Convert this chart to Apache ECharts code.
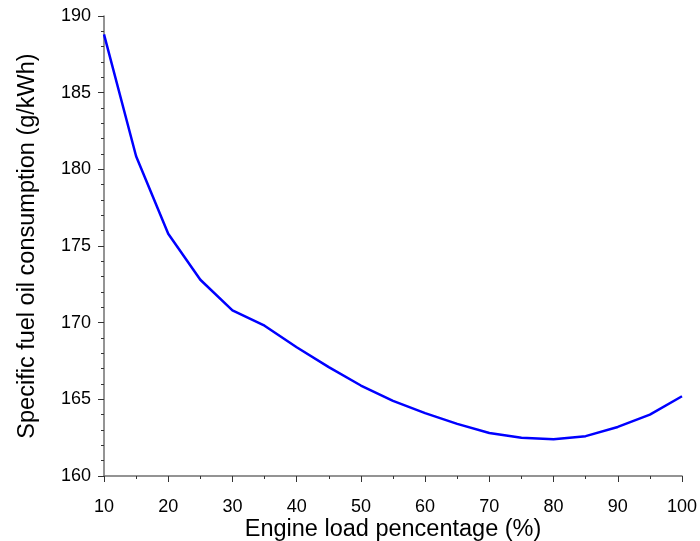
<!DOCTYPE html>
<html>
<head>
<meta charset="utf-8">
<script src="https://cdn.jsdelivr.net/npm/echarts@6/dist/echarts.min.js"></script>
<style>html,body{margin:0;padding:0;background:#fff;}#c{width:700px;height:541px;}</style>
</head>
<body>
<div id="c"></div>
<script>
const loadPct = [10, 15, 20, 25, 30, 35, 40, 45, 50, 55, 60, 65, 70, 75, 80, 85, 90, 95, 100];
const sfoc = [188.8, 180.85, 175.8, 172.8, 170.8, 169.8, 168.4, 167.1, 165.9, 164.9, 164.1, 163.4, 162.8, 162.5, 162.4, 162.6, 163.2, 164.0, 165.2];
const xTicks = [10, 20, 30, 40, 50, 60, 70, 80, 90, 100];
const yTicks = [160, 165, 170, 175, 180, 185, 190];

const font = '"Liberation Sans", Arial, sans-serif';
const axisGrey = '#707070';
const chart = echarts.init(document.getElementById('c'), null, {renderer: 'canvas'});
chart.setOption({
  animation: false,
  backgroundColor: '#ffffff',
  grid: {left: 104, right: 18, top: 16, bottom: 65, containLabel: false, outerBoundsMode: 'none'},
  xAxis: {
    type: 'value',
    min: xTicks[0], max: xTicks[xTicks.length - 1], interval: 10,
    name: 'Engine load pencentage (%)',
    nameLocation: 'middle', nameGap: 42, nameMoveOverlap: false,
    nameTextStyle: {fontFamily: font, fontSize: 23.5, color: '#000'},
    axisLine: {show: true, lineStyle: {color: axisGrey, width: 1.5}},
    axisTick: {show: true, inside: false, length: 6, lineStyle: {color: '#333', width: 1}},
    minorTick: {show: true, splitNumber: 2, length: 3, lineStyle: {color: '#333', width: 1}},
    axisLabel: {fontFamily: font, fontSize: 18, color: '#000', margin: 22},
    splitLine: {show: false}
  },
  yAxis: {
    type: 'value',
    min: yTicks[0], max: yTicks[yTicks.length - 1], interval: 5,
    name: 'Specific fuel oil consumption (g/kWh)',
    nameLocation: 'middle', nameGap: 64, nameMoveOverlap: false,
    nameTextStyle: {fontFamily: font, fontSize: 23.5, color: '#000'},
    axisLine: {show: true, lineStyle: {color: axisGrey, width: 1.5}},
    axisTick: {show: true, inside: false, length: 6, lineStyle: {color: '#333', width: 1}},
    minorTick: {show: true, splitNumber: 5, length: 3, lineStyle: {color: '#333', width: 1}},
    axisLabel: {fontFamily: font, fontSize: 18, color: '#000', margin: 13},
    splitLine: {show: false}
  },
  series: [{
    type: 'line',
    data: loadPct.map((x, i) => [x, sfoc[i]]),
    showSymbol: false,
    lineStyle: {color: '#0000ff', width: 2.5},
    itemStyle: {color: '#0000ff'}
  }]
});
</script>
</body>
</html>
